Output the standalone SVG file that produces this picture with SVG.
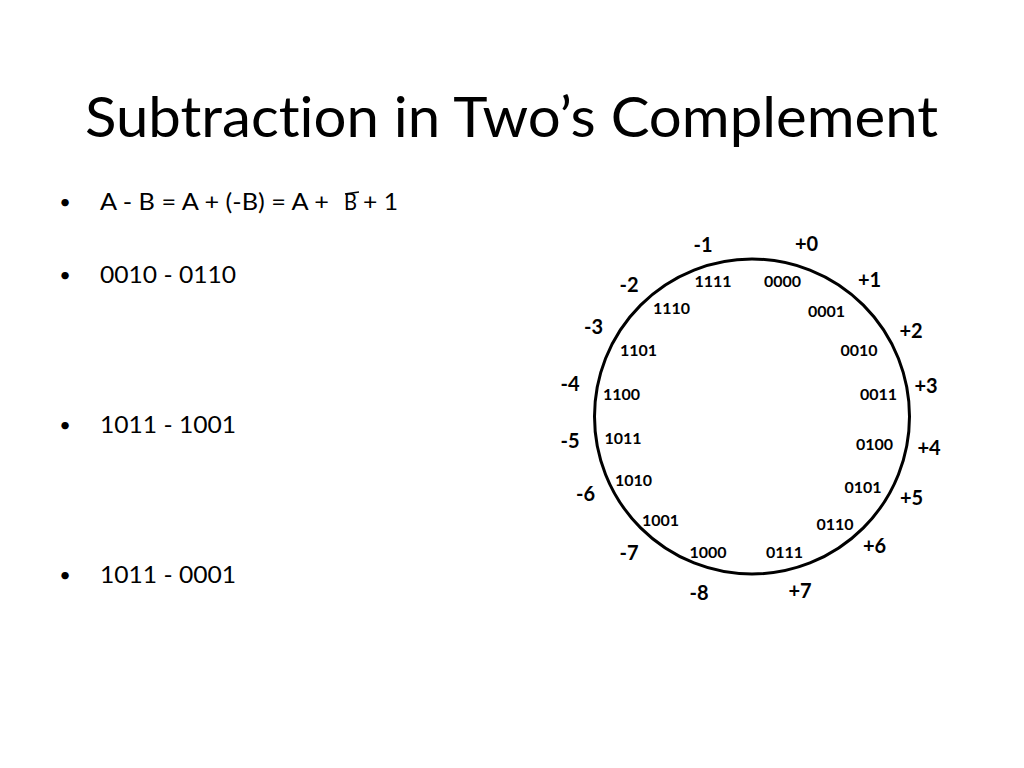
<svg xmlns="http://www.w3.org/2000/svg" width="1024" height="768" viewBox="0 0 1024 768">
<style>
text{font-family:Lato,"Liberation Sans",sans-serif;fill:#000;font-variant-ligatures:none}
.title{font-size:56px}
.body{font-size:22.5px}
.bul{font-size:20px;text-anchor:middle}
.out{font-size:20px;font-weight:bold;text-anchor:middle}
.in{font-size:16px;font-weight:bold;text-anchor:middle}
</style>
<rect width="1024" height="768" fill="#fff"/>
<g id="title"><text class="title" x="85" y="137" textLength="853" lengthAdjust="spacingAndGlyphs">Subtraction in Two’s Complement</text></g>
<g id="bullets">
<text class="bul" x="65" y="209">•</text>
<text class="body" x="100" y="210" textLength="229" lengthAdjust="spacingAndGlyphs">A - B = A + (-B) = A +</text>
<text class="body" x="344" y="210" textLength="13" lengthAdjust="spacingAndGlyphs">B</text>
<line x1="345" y1="194" x2="359" y2="192" stroke="#000" stroke-width="1.5"/>
<text class="body" x="363" y="210" textLength="35" lengthAdjust="spacingAndGlyphs">+ 1</text>
<text class="bul" x="65" y="282">•</text>
<text class="body" x="100" y="283" textLength="136" lengthAdjust="spacingAndGlyphs">0010 - 0110</text>
<text class="bul" x="65" y="432">•</text>
<text class="body" x="100" y="433" textLength="136" lengthAdjust="spacingAndGlyphs">1011 - 1001</text>
<text class="bul" x="65" y="582">•</text>
<text class="body" x="100" y="583" textLength="136" lengthAdjust="spacingAndGlyphs">1011 - 0001</text>
</g>
<g id="wheel">
<circle cx="752" cy="416.5" r="157.5" fill="none" stroke="#000" stroke-width="3"/>
</g>
<g id="decimal-labels">
<text class="out" x="703" y="252">-1</text>
<text class="out" x="806.5" y="251">+0</text>
<text class="out" x="869.5" y="287">+1</text>
<text class="out" x="629" y="291.5">-2</text>
<text class="out" x="593.5" y="333.5">-3</text>
<text class="out" x="911" y="337.5">+2</text>
<text class="out" x="570" y="391">-4</text>
<text class="out" x="926" y="393">+3</text>
<text class="out" x="570" y="448">-5</text>
<text class="out" x="929" y="454.5">+4</text>
<text class="out" x="585.5" y="500.5">-6</text>
<text class="out" x="911.5" y="504.5">+5</text>
<text class="out" x="629" y="559.5">-7</text>
<text class="out" x="874.5" y="552.5">+6</text>
<text class="out" x="699" y="599.5">-8</text>
<text class="out" x="800" y="597.5">+7</text>
</g>
<g id="binary-labels">
<text class="in" x="713" y="287">1111</text>
<text class="in" x="782.5" y="287">0000</text>
<text class="in" x="671.5" y="314">1110</text>
<text class="in" x="826.5" y="316.5">0001</text>
<text class="in" x="638.5" y="355.5">1101</text>
<text class="in" x="859" y="355.5">0010</text>
<text class="in" x="621.5" y="399.5">1100</text>
<text class="in" x="878.5" y="400">0011</text>
<text class="in" x="623" y="444">1011</text>
<text class="in" x="874.5" y="450">0100</text>
<text class="in" x="633.5" y="485.5">1010</text>
<text class="in" x="863" y="492.5">0101</text>
<text class="in" x="660.5" y="525.5">1001</text>
<text class="in" x="835" y="530">0110</text>
<text class="in" x="708" y="558">1000</text>
<text class="in" x="784.5" y="558">0111</text>
</g>
</svg>
